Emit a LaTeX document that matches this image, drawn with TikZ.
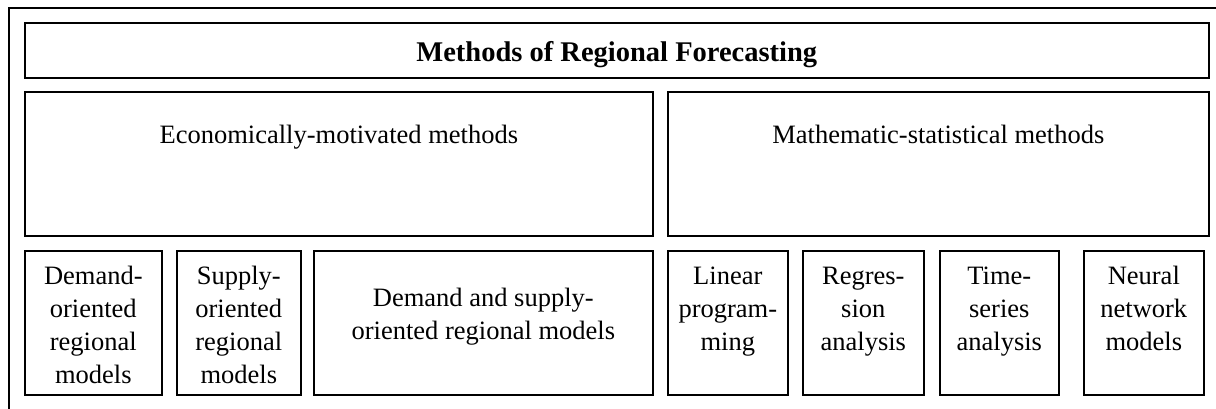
\documentclass[tikz,border=0pt]{standalone}
\usepackage{fontspec}
\setmainfont{Liberation Serif}
\usetikzlibrary{positioning}

\begin{document}
\begin{tikzpicture}[x=1pt, y=-1pt,
    box/.style={draw, line width=1.6pt, inner sep=0pt, anchor=north west},
    txt/.style={align=center, anchor=base, inner sep=0pt, font=\fontsize{26.5}{33}\selectfont}]
            \useasboundingbox (0,0) rectangle (1216,409);

            % outer frame, only top and left edges are seen
            \coordinate (fbl) at (9,409);
            \coordinate (ftl) at (9,8);
            \coordinate (ftr) at (1216,8);
            \draw[line width=1.6pt] (fbl) -- (ftl) -- (ftr);

            \node[box, minimum width=1184pt, minimum height=55pt] (title) at (24,22) {};
            \node[txt, font=\fontsize{28.5}{33}\selectfont\bfseries] (titletxt) at ([yshift=-40pt]title.north) {Methods of Regional Forecasting};

            \node[box, minimum width=628pt, minimum height=144pt] (econ) at (24,91) {};
            \node[box, minimum width=541pt, minimum height=144pt] (math) at (667,91) {};
            \node[txt] (econtxt) at ([yshift=-53pt]econ.north) {Economically-motivated methods};
            \node[txt] (mathtxt) at ([yshift=-53pt]math.north) {Mathematic-statistical methods};

            \node[box, minimum width=137pt, minimum height=144pt] (dem) at (24,250) {};
            \node[box, minimum width=124pt, minimum height=144pt] (sup) at (176,250) {};
            \node[box, minimum width=339pt, minimum height=144pt] (both) at (313,250) {};
            \node[box, minimum width=120pt, minimum height=144pt] (lin) at (667,250) {};
            \node[box, minimum width=121pt, minimum height=144pt] (reg) at (802,250) {};
            \node[box, minimum width=119pt, minimum height=144pt] (tim) at (939,250) {};
            \node[box, minimum width=120pt, minimum height=144pt] (neu) at (1083,250) {};

            % base anchor sits on the last line
            \node[txt] (demtxt) at ([yshift=-133pt]dem.north) {Demand-\\oriented\\regional\\models};
            \node[txt] (suptxt) at ([yshift=-133pt]sup.north) {Supply-\\oriented\\regional\\models};
            \node[txt] (bothtxt) at ([yshift=-89pt]both.north) {Demand and supply-\\oriented regional models};
            \node[txt] (lintxt) at ([yshift=-100pt]lin.north) {Linear\\program-\\ming};
            \node[txt] (regtxt) at ([yshift=-100pt]reg.north) {Regres-\\sion\\analysis};
            \node[txt] (timtxt) at ([yshift=-100pt]tim.north) {Time-\\series\\analysis};
            \node[txt] (neutxt) at ([yshift=-100pt]neu.north) {Neural\\network\\models};
        \end{tikzpicture}
\end{document}
